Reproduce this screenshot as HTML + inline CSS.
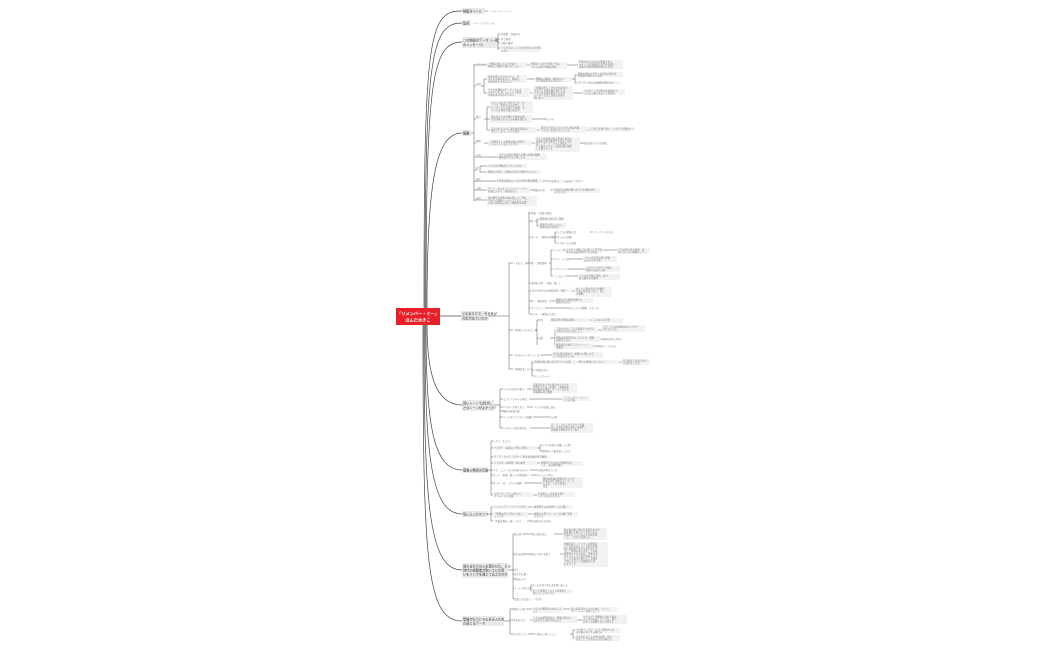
<!DOCTYPE html>
<html><head><meta charset="utf-8"><style>
html,body{margin:0;padding:0;background:#fff;width:1050px;height:650px;overflow:hidden}
svg{display:block}
.t{font-family:"Liberation Sans","Noto Sans CJK JP",sans-serif;font-size:2.4px;fill:#777}
.m{font-family:"Liberation Sans","Noto Sans CJK JP",sans-serif;font-size:3.2px;fill:#333}
.b{fill:#f2f2f2}
.mb{fill:#e9e9e9}
.l{stroke:#555;stroke-width:.5;fill:none}
.c{stroke:#444;stroke-width:.7;fill:none}
</style></head><body>
<svg width="1050" height="650" viewBox="0 0 1050 650" xmlns="http://www.w3.org/2000/svg">
<path class="c" d="M424 309 C424 40 428 10 462 11"/>
<path class="c" d="M425 309 C425 60 430 23 462 23"/>
<path class="c" d="M426 309 C426 80 432 42 462 42"/>
<path class="c" d="M427 309 C427 180 436 133 462 133"/>
<path class="c" d="M440 316 L461 316"/>
<path class="c" d="M427 324 C427 370 434 405 462 405"/>
<path class="c" d="M426 324 C426 420 432 470 462 470"/>
<path class="c" d="M425 324 C425 450 430 514 462 514"/>
<path class="c" d="M424 324 C424 500 428 570 462 570"/>
<path class="c" d="M423 324 C423 560 426 621 462 621"/>

<rect x="396" y="308" width="44" height="17" fill="#e8202a"/>
<text x="418" y="315" text-anchor="middle" font-family="Liberation Sans,Noto Sans CJK JP,sans-serif" font-size="4.2" font-weight="bold" fill="#fff">「リメンバー・ミー」</text>
<text x="418" y="321.5" text-anchor="middle" font-family="Liberation Sans,Noto Sans CJK JP,sans-serif" font-size="4.2" font-weight="bold" fill="#fff">ほんだゆきこ</text>

<rect class="mb" x="462" y="8" width="23" height="6"/><text class="m" x="463" y="12.3">映画タイトル</text>
<line class="l" x1="485" y1="11" x2="488" y2="11"/><text class="t" x="489" y="12">「リメンバー・ミー」</text>
<rect class="mb" x="462" y="20" width="9" height="6"/><text class="m" x="463" y="24.3">監督</text>
<text class="t" x="473" y="24">リー・アンクリッチ</text>
<rect class="mb" x="462" y="37" width="35" height="11"/><text class="m" x="463" y="41.5">この映画のテーマ（一番</text><text class="m" x="463" y="46">のメッセージ）</text>
<rect class="mb" x="462" y="130" width="9" height="6"/><text class="m" x="463" y="134.3">概要</text>
<rect class="mb" x="461" y="311" width="28" height="10"/><text class="m" x="462" y="315">どのあたりで、やる気が</text><text class="m" x="462" y="319.5">元気が出ていたか</text>
<rect class="mb" x="462" y="400" width="32" height="11"/><text class="m" x="463" y="404.5">良いシーンで(何が)、</text><text class="m" x="463" y="409">どのシーンがよかった?</text>
<rect class="mb" x="462" y="467" width="26" height="6"/><text class="m" x="463" y="471.3">登場人物書の印象</text>
<rect class="mb" x="462" y="511" width="25" height="6"/><text class="m" x="463" y="515.3">気に入ったセリフ</text>
<rect class="mb" x="462" y="563" width="46" height="15"/><text class="m" x="463" y="567.5">身のまわりの人を思わせた、その</text><text class="m" x="463" y="571.5">時代の視聴者が抱いていた思</text><text class="m" x="463" y="575.5">いをリンクを通じて伝えたのか</text>
<rect class="mb" x="462" y="616" width="42" height="10"/><text class="m" x="463" y="620.5">登場がもつとちもある人ため</text><text class="m" x="463" y="624.5">た感じるテーマ</text>

<path class="l" d="M497 42 H498 M498 34 V50 M498 34 H500 M498 39 H500 M498 43 H500 M498 48 H500"/>
<text class="t" x="501" y="35">家族愛・音楽の力</text><text class="t" x="501" y="40">夢と家族</text><text class="t" x="501" y="44">記憶と継承</text>
<rect class="b" x="500" y="46" width="40" height="6"/><text class="t" x="501" y="48.5">「忘れない」ことが大切な人との絆を</text><text class="t" x="501" y="51.3">つなぐ</text>

<path class="l" d="M471 133 H474 M474 64 V201"/>
<g>
<path class="l" d="M474 65 H487 M527 65 H530 M567 65 H578"/><text class="t" x="476" y="64.5">ジャンル</text>
<rect class="b" x="487" y="62" width="40" height="6"/><text class="t" x="488" y="64.5">「家族の絆」のことがあり</text><text class="t" x="488" y="67">家族との関係で描かれている</text>
<rect class="b" x="530" y="62" width="37" height="7"/><text class="t" x="531" y="64.5">家族のつながりを描く作品</text><text class="t" x="531" y="67.3">ミゲルの夢と家族の想い</text>
<rect class="b" x="578" y="60" width="45" height="9"/><text class="t" x="579" y="62.5">死者の日にちなんだ物語であり、</text><text class="t" x="579" y="65">メキシコの伝統的な文化を背景に</text><text class="t" x="579" y="67.5">家族と音楽の関係を描いた作品</text>

<path class="l" d="M474 86 H476 M481 86 H484 M484 79 V93 M484 79 H487 M484 93 H487 M527 79 H535 M572 79 H575 M575 75 V83 M575 75 H577 M575 83 H577 M530 93 H533 M573 93 H583"/><text class="t" x="476" y="85">登場</text>
<rect class="b" x="487" y="75" width="40" height="8"/><text class="t" x="488" y="77.5">音楽を愛する少年ミゲル、ギ</text><text class="t" x="488" y="80">ターの才能があるが、家族は</text><text class="t" x="488" y="82.5">音楽を禁止されている</text>
<rect class="b" x="535" y="77" width="37" height="5"/><text class="t" x="536" y="79.3">靴職人の家族、祖母エレナ</text><text class="t" x="536" y="81.5">ひいおばあちゃんのココ</text>
<rect class="b" x="577" y="72" width="46" height="5"/><text class="t" x="578" y="74.3">死者の国でヘクターと出会い真実を</text><text class="t" x="578" y="76.5">家族の記憶をたどる旅</text>
<rect class="b" x="577" y="81" width="43" height="3"/><text class="t" x="578" y="83.3">デ・ラ・クルスの秘密が明らかに</text>
<rect class="b" x="487" y="88" width="43" height="9"/><text class="t" x="488" y="90.5">ミゲルは憧れのデ・ラ・クルス</text><text class="t" x="488" y="93">のギターを手にしたことで死者</text><text class="t" x="488" y="95.5">の国に迷い込んでしまう</text>
<rect class="b" x="533" y="86" width="40" height="14"/><text class="t" x="534" y="88.5">「家族の許し」がなければ日の</text><text class="t" x="534" y="91">出までに生者の国に戻れない。</text><text class="t" x="534" y="93.5">ミゲルは音楽を続けたいため</text><text class="t" x="534" y="96">ヘクターと共に高祖父を探す</text><text class="t" x="534" y="98.5">旅に出る</text>
<rect class="b" x="583" y="89" width="42" height="6"/><text class="t" x="584" y="91.5">ヘクターこそが本当の高祖父で</text><text class="t" x="584" y="94">ココの父親であることを知る</text>

<path class="l" d="M474 119 H476 M484 119 H487 M487 107 V130 M487 107 H490 M487 119 H490 M487 130 H490 M532 119 H547 M537 130 H540 M587 130 H588"/><text class="t" x="476" y="118">舞台</text>
<rect class="b" x="490" y="101" width="43" height="12"/><text class="t" x="491" y="103.5">メキシコの小さな町サンタ・セ</text><text class="t" x="491" y="106">シリア、死者の日のお祭り、マ</text><text class="t" x="491" y="108.5">リーゴールドの花びらの橋、カ</text><text class="t" x="491" y="111">ラフルな死者の国の街並み</text>
<rect class="b" x="490" y="115" width="42" height="8"/><text class="t" x="491" y="117.5">骨の住人たちが暮らす死者の国</text><text class="t" x="491" y="120">写真が飾られた人のみ橋を渡れる</text>
<text class="t" x="547" y="120">ヒヤヤ</text>
<rect class="b" x="490" y="127" width="47" height="6"/><text class="t" x="491" y="129.5">忘れられた人は二度目の死を迎えて</text><text class="t" x="491" y="132">消えてしまう、という設定</text>
<rect class="b" x="540" y="126" width="47" height="7"/><text class="t" x="541" y="128.5">誰からも覚えられていない者は消滅</text><text class="t" x="541" y="131">ヘクターも消えかけている</text>
<rect class="b" x="588" y="127" width="42" height="5"/><text class="t" x="589" y="129.5">ココが父を思い出し、ヘクターは救われる</text>

<path class="l" d="M474 143 H476 M484 143 H488 M532 143 H535 M580 143 H583"/><text class="t" x="476" y="142">展開</text>
<rect class="b" x="488" y="140" width="44" height="5"/><text class="t" x="489" y="142.5">「音楽禁止」の家族の掟に反発し</text><text class="t" x="489" y="144.8">コンテストに出ようとする</text>
<rect class="b" x="535" y="137" width="45" height="15"/><text class="t" x="536" y="139.5">ミゲルは死者の国で家族に出会い</text><text class="t" x="536" y="142">音楽をやめる条件付きの許しを拒</text><text class="t" x="536" y="144.5">否し、デ・ラ・クルスを探す、し</text><text class="t" x="536" y="147">かし彼はヘクターの曲を盗み毒殺</text><text class="t" x="536" y="149.5">した犯人だった</text>
<text class="t" x="583" y="144">物語の核心となる場面</text>

<path class="l" d="M474 157 H498"/><text class="t" x="476" y="156">心情</text>
<rect class="b" x="498" y="153" width="49" height="7"/><text class="t" x="499" y="155.5">ミゲルの夢と家族への想いの間の葛藤</text><text class="t" x="499" y="158">最後は両方を大切にする</text>
<path class="l" d="M474 170 H477 M480 166 V172 M480 166 H487 M480 172 H487"/><text class="t" x="476" y="169">時</text>
<rect class="b" x="487" y="164" width="40" height="4"/><text class="t" x="488" y="166.5">ミゲルの行動は正しかったのか</text>
<rect class="b" x="487" y="170" width="53" height="4"/><text class="t" x="488" y="172.5">家族の大切さ、記憶の大切さが描かれている</text>
<path class="l" d="M474 181 H498 M543 181 H547"/><text class="t" x="476" y="180">設定</text>
<rect class="b" x="498" y="179" width="45" height="4"/><text class="t" x="499" y="181.5">死者の国のルールと生者の国の関係</text>
<text class="t" x="547" y="182">写真を飾ることの意味とつながり</text>
<path class="l" d="M474 190 H487 M530 190 H533 M550 190 H553"/><text class="t" x="476" y="189">人物</text>
<rect class="b" x="487" y="187" width="43" height="6"/><text class="t" x="488" y="189.5">デ・ラ・クルス「リメンバー・ミー」</text><text class="t" x="488" y="192">を歌うスター、曲を盗んだ</text>
<text class="t" x="533" y="191">家族の写真</text>
<rect class="b" x="553" y="188" width="47" height="5"/><text class="t" x="554" y="190.5">写真の中の顔が破られていた理由が明</text><text class="t" x="554" y="192.8">らかになる</text>
<path class="l" d="M474 200 H487"/><text class="t" x="476" y="199">見所</text>
<rect class="b" x="487" y="196" width="50" height="10"/><text class="t" x="488" y="198.5">骨の描写と死者の国の美しさ、色彩</text><text class="t" x="488" y="201">ギターの演奏シーンのリアルさ、ココ</text><text class="t" x="488" y="203.5">に歌う場面は心を打つ感動的な場面</text>
</g>

<path class="l" d="M489 316 H509 M509 263 V369 M509 263 H513 M509 330 H513 M509 355 H513 M509 369 H513"/>
<text class="t" x="513" y="264">「元気さ」は</text>
<path class="l" d="M526 263 H529 M529 212 V314 M529 213 H531 M529 221 H531 M529 237 H531 M529 263 H531 M529 283 H531 M529 291 H531 M529 301 H531 M529 308 H531 M529 314 H531"/>
<text class="t" x="531" y="214">音楽 → 家族の場面</text>
<text class="t" x="531" y="222">夢</text><path class="l" d="M535 221 H537 M537 219 V226 M537 219 H539 M537 226 H539"/>
<rect class="b" x="539" y="217" width="24" height="4"/><text class="t" x="540" y="219.5">夢を追いかける、希望</text>
<rect class="b" x="539" y="223" width="27" height="5"/><text class="t" x="540" y="225.5">家族を大切にしたい</text><text class="t" x="540" y="227.8">家族の想いを知る</text>
<text class="t" x="531" y="238">ダンテ → 家族の場面</text><path class="l" d="M553 237 H555 M555 232 V243 M555 232 H557 M555 237 H557 M555 243 H557 M590 232 H593"/>
<text class="t" x="557" y="233">ミゲルの相棒の犬</text><text class="t" x="594" y="233">アレブリヘになる</text>
<text class="t" x="557" y="238">ダンテの活躍</text><text class="t" x="557" y="244">ヘクターとの友情</text>
<text class="t" x="531" y="264">骨 → 感情表現</text><path class="l" d="M549 263 H551 M551 250 V276 M551 250 H553 M551 259 H553 M551 269 H553 M551 276 H553 M563 250 H565 M603 250 H617 M567 259 H583 M567 269 H585 M567 276 H578"/>
<text class="t" x="553" y="251">「リメンバー」</text>
<rect class="b" x="565" y="248" width="38" height="5"/><text class="t" x="566" y="250.5">ヘクターが娘ココに歌った子守唄</text><text class="t" x="566" y="252.8">本当の意味が明かされる場面</text>
<rect class="b" x="617" y="248" width="33" height="5"/><text class="t" x="618" y="250.5">ココが思い出す場面、涙</text><text class="t" x="618" y="252.8">が止まらない感動のシーン</text>
<text class="t" x="553" y="260">「ウン・ポコ」</text>
<rect class="b" x="583" y="256" width="34" height="6"/><text class="t" x="584" y="258.5">ミゲルが広場で歌う場面</text><text class="t" x="584" y="261">元気になれる曲</text>
<text class="t" x="553" y="270">「プラウド」</text>
<rect class="b" x="585" y="266" width="35" height="6"/><text class="t" x="586" y="268.5">ミゲルとヘクターが歌う</text><text class="t" x="586" y="271">家族への誇りの歌</text>
<text class="t" x="553" y="277">「ジョローナ」</text>
<rect class="b" x="578" y="274" width="42" height="6"/><text class="t" x="579" y="276.5">イメルダが歌う場面、迫力</text><text class="t" x="579" y="279">ある歌声が印象的</text>
<text class="t" x="531" y="284">自然を大切 → 音楽、楽しく</text>
<rect class="b" x="531" y="289" width="41" height="3"/><text class="t" x="532" y="291.3">マリーゴールドの花びら、色彩</text>
<path class="l" d="M572 291 H575"/><rect class="b" x="575" y="287" width="37" height="10"/><text class="t" x="576" y="289.5">オレンジ色の花びらの橋が</text><text class="t" x="576" y="292">生者と死者をつなぐ、美し</text><text class="t" x="576" y="294.5">い映像</text>
<text class="t" x="531" y="302">骨 → 感情表現</text><path class="l" d="M549 301 H555"/>
<rect class="b" x="555" y="298" width="38" height="5"/><text class="t" x="556" y="300.5">骸骨なのに表情が豊かで、</text><text class="t" x="556" y="302.8">感情が伝わる</text>
<text class="t" x="531" y="309">アレブリヘ</text><path class="l" d="M545 308 H570"/><text class="t" x="570" y="309">カラフルな動物、ペピータ</text>
<text class="t" x="531" y="315">ダンテ → 家族のために</text>

<text class="t" x="513" y="331">「家族のつながり」は</text>
<path class="l" d="M535 330 H537 M537 320 V345 M537 320 H538 M537 338 H538 M590 320 H592 M550 338 H555 M555 329 V346 M598 330 H602 M600 339 H603 M593 346 H597"/>
<text class="t" x="538" y="321">写真</text>
<rect class="b" x="550" y="318" width="40" height="4"/><text class="t" x="551" y="320.5">家族写真を祭壇に飾る</text>
<rect class="b" x="592" y="318" width="31" height="5"/><text class="t" x="593" y="320.5">ココの父の写真</text>
<text class="t" x="538" y="339">記憶</text>
<rect class="b" x="555" y="327" width="43" height="6"/><text class="t" x="556" y="329.5">「思い出す」ことで家族がつながる</text><text class="t" x="556" y="332">大切な人を忘れないこと</text>
<rect class="b" x="602" y="325" width="43" height="7"/><text class="t" x="603" y="327.5">ママ・ココの記憶の中にヘクター</text><text class="t" x="603" y="330">が生きていた</text>
<rect class="b" x="555" y="336" width="45" height="6"/><text class="t" x="556" y="338.5">家族は音楽を禁止していたが、最後</text><text class="t" x="556" y="341">は受け入れる</text>
<text class="t" x="603" y="340">家族の絆の大切さ</text>
<rect class="b" x="555" y="343" width="38" height="6"/><text class="t" x="556" y="345.5">家族全員で歌うラストシーン</text><text class="t" x="556" y="348">感動的</text>
<text class="t" x="597" y="347">家族が一つになる</text>

<text class="t" x="513" y="356">「自己のメッセージ」は</text><path class="l" d="M540 355 H552"/>
<rect class="b" x="552" y="352" width="51" height="6"/><text class="t" x="553" y="354.5">自分の夢を諦めず、家族も大切にする</text><text class="t" x="553" y="357">ことの両立ができる</text>
<text class="t" x="513" y="370">「骨格変化」は</text><path class="l" d="M531 369 H532 M532 362 V376 M532 362 H534 M532 370 H534 M532 376 H534 M577 362 H578 M620 362 H622"/>
<rect class="b" x="534" y="360" width="43" height="4"/><text class="t" x="535" y="362.5">死者の国に迷い込んだミゲルの体</text>
<rect class="b" x="578" y="360" width="42" height="4"/><text class="t" x="579" y="362.5">徐々に骸骨になっていく</text>
<rect class="b" x="622" y="359" width="28" height="6"/><text class="t" x="623" y="361.5">日の出までに戻らない</text><text class="t" x="623" y="364">と戻れなくなる</text>
<text class="t" x="534" y="371">「家族の許し」</text><text class="t" x="534" y="377">マリーゴールド</text>

<path class="l" d="M494 405 H500 M500 389 V428 M500 389 H503 M500 399 H503 M500 407 H503 M500 411 H503 M500 417 H503 M500 428 H503"/>
<text class="t" x="503" y="390">ミゲルが広場で歌う</text><path class="l" d="M527 389 H532"/>
<rect class="b" x="532" y="383" width="45" height="10"/><text class="t" x="533" y="385.5">音楽が禁止された家の中でミゲル</text><text class="t" x="533" y="388">が隠れてギターを弾く、屋根裏部</text><text class="t" x="533" y="390.5">屋の秘密の祭壇、デ・ラ・クルス</text><text class="t" x="533" y="393">の映像を見て練習</text>
<text class="t" x="503" y="400">ココとヘクターの再会</text><path class="l" d="M529 399 H562"/>
<rect class="b" x="562" y="396" width="28" height="5"/><text class="t" x="563" y="398.5">「リメンバー・ミー」</text><text class="t" x="563" y="400.8">ココの記憶</text>
<text class="t" x="503" y="408">ヘクターが消えそう</text><path class="l" d="M527 407 H533"/><text class="t" x="534" y="408">ミゲルが必死に戻る</text>
<text class="t" x="503" y="412">最後の家族の歌</text>
<text class="t" x="503" y="418">イメルダとヘクターの和解</text><path class="l" d="M533 417 H550"/><text class="t" x="550" y="418">心の絆</text>
<text class="t" x="503" y="429">ヘクターの真実を知る</text><path class="l" d="M530 428 H550"/>
<rect class="b" x="550" y="423" width="43" height="10"/><text class="t" x="551" y="425.5">デ・ラ・クルスがヘクターを毒</text><text class="t" x="551" y="428">殺した事実を知る場面、衝撃的</text><text class="t" x="551" y="430.5">な展開で物語が大きく動く</text>

<path class="l" d="M488 470 H491 M491 441 V495 M491 441 H493 M491 448 H493 M491 457 H493 M491 463 H493 M491 470 H493 M491 475 H493 M491 483 H493 M491 495 H493"/>
<text class="t" x="493" y="442">ミゲル（主人公）</text>
<rect class="b" x="493" y="446" width="44" height="4"/><text class="t" x="494" y="448.5">ヘクター（高祖父）明るく陽気</text>
<path class="l" d="M537 448 H540 M540 445 V451 M540 445 H542 M540 451 H542"/><text class="t" x="542" y="446">ミゲルを助ける優しい人物</text><text class="t" x="542" y="452">家族思いで娘を愛していた</text>
<rect class="b" x="493" y="455" width="57" height="3"/><text class="t" x="494" y="457.5">デ・ラ・クルス（スター）表と裏の顔がある悪役</text>
<rect class="b" x="493" y="461" width="44" height="4"/><text class="t" x="494" y="463.5">イメルダ（高祖母）強い女性</text><path class="l" d="M537 463 H540"/>
<rect class="b" x="540" y="461" width="43" height="5"/><text class="t" x="541" y="463.5">家族を守るために音楽を禁止</text><text class="t" x="541" y="465.8">した、実は愛情深い</text>
<text class="t" x="493" y="471">ママ・ココ（ひいおばあちゃん）</text><path class="l" d="M530 470 H538"/><text class="t" x="538" y="471">記憶が薄れている</text>
<text class="t" x="493" y="476">エレナ（祖母）厳しいが家族思い</text><path class="l" d="M531 475 H537"/><text class="t" x="537" y="476">スリッパで叩く</text>
<text class="t" x="493" y="484">ダンテ（犬）ミゲルの相棒</text><path class="l" d="M524 483 H542"/>
<rect class="b" x="542" y="477" width="41" height="11"/><text class="t" x="543" y="479.5">最初は普通の野良犬だったが</text><text class="t" x="543" y="482">死者の国で本物のアレブリヘ</text><text class="t" x="543" y="484.5">になる、ミゲルを導く</text><text class="t" x="543" y="487">存在</text>
<rect class="b" x="493" y="492" width="40" height="5"/><text class="t" x="494" y="494.5">ペピータ（イメルダのアレ</text><text class="t" x="494" y="496.8">ブリヘ）大きな猫</text><path class="l" d="M533 495 H537"/>
<rect class="b" x="537" y="492" width="38" height="5"/><text class="t" x="538" y="494.5">空を飛ぶ、迫力ある姿で</text><text class="t" x="538" y="496.8">ミゲルを追いかける</text>

<path class="l" d="M487 514 H491 M491 507 V521 M491 507 H493 M491 514 H493 M491 521 H493 M528 507 H533 M528 514 H533 M527 521 H530"/>
<rect class="b" x="493" y="505" width="35" height="4"/><text class="t" x="494" y="507.3">「リメンバー・ミー」ヘクター</text>
<rect class="b" x="533" y="505" width="40" height="4"/><text class="t" x="534" y="507.5">娘を想う父の気持ち、心に響く</text>
<rect class="b" x="493" y="512" width="35" height="5"/><text class="t" x="494" y="514.5">「家族の許しがないとね」</text><text class="t" x="494" y="516.8">イメルダ</text>
<rect class="b" x="533" y="512" width="45" height="5"/><text class="t" x="534" y="514.5">家族の大切さと、ルールの重さを表</text><text class="t" x="534" y="516.8">すセリフ</text>
<text class="t" x="493" y="522">「音楽は僕の一部」ミゲル</text><text class="t" x="530" y="522">夢を諦めない気持ち</text>

<path class="l" d="M508 570 H513 M513 534 V599 M513 534 H514 M513 554 H514 M513 570 H514 M513 574 H514 M513 579 H514 M513 588 H514 M513 599 H514"/>
<text class="t" x="514" y="535">祖父母</text><path class="l" d="M522 534 H532 M554 534 H563"/><text class="t" x="532" y="535">思い出を語る</text>
<rect class="b" x="563" y="528" width="44" height="12"/><text class="t" x="564" y="530.5">祖父母の家で昔の写真を見ながら</text><text class="t" x="564" y="533">話を聞いた時のことを思い出す</text><text class="t" x="564" y="535.5">写真に写っている人々の話を聞</text><text class="t" x="564" y="538">くと、つながりを感じる</text>
<text class="t" x="514" y="555">自分の家族</text><path class="l" d="M526 554 H529 M560 554 H563"/><text class="t" x="529" y="555">家族の大切さを思う</text>
<rect class="b" x="563" y="542" width="45" height="25"/><text class="t" x="564" y="544.5">映画を見て、亡くなった家族の</text><text class="t" x="564" y="547">ことを思い出した。お盆やお彼</text><text class="t" x="564" y="549.5">岸にお墓参りをするのと同じよ</text><text class="t" x="564" y="552">うに、死者を思い出すことの意</text><text class="t" x="564" y="554.5">味を考えさせられた。日本の文</text><text class="t" x="564" y="557">化とメキシコの文化は似ている</text><text class="t" x="564" y="559.5">ところがあると感じた。記憶を</text><text class="t" x="564" y="562">大切にすることは家族を大切</text><text class="t" x="564" y="564.5">にすること</text>
<text class="t" x="514" y="570">友人</text><text class="t" x="514" y="575">先生や先輩</text><text class="t" x="514" y="580">地域の人々</text>
<text class="t" x="514" y="589">ペットの思い出</text><path class="l" d="M530 588 H531 M531 585 V591 M531 585 H532 M531 591 H532"/>
<text class="t" x="532" y="586">ダンテを見て昔の犬を思い出した</text>
<rect class="b" x="532" y="589" width="40" height="5"/><text class="t" x="533" y="591.5">ずっと家族だったことを改めて</text><text class="t" x="533" y="593.8">感じることができた</text>
<text class="t" x="514" y="600">音楽との出会い、つながり</text>

<path class="l" d="M504 621 H510 M510 609 V634 M510 609 H513 M510 620 H513 M510 634 H513 M526 609 H532 M563 609 H570 M530 620 H532 M577 620 H582 M528 634 H535 M570 634 H573 M573 630 V638 M573 630 H575 M573 638 H575"/>
<text class="t" x="513" y="610">家族への愛</text>
<rect class="b" x="532" y="607" width="31" height="6"/><text class="t" x="533" y="609.5">ミゲルが家族のためにした</text><text class="t" x="533" y="612">こと</text>
<rect class="b" x="570" y="607" width="47" height="5"/><text class="t" x="571" y="609.5">ひいおばあちゃんのために「リメン</text><text class="t" x="571" y="611.8">バー・ミー」を歌ったこと</text>
<text class="t" x="513" y="621">夢を追う力</text>
<rect class="b" x="532" y="616" width="45" height="7"/><text class="t" x="533" y="618.5">ミゲルは夢を諦めず、家族の反対に</text><text class="t" x="533" y="621">も負けずに気持ちを伝えた</text>
<rect class="b" x="582" y="615" width="45" height="9"/><text class="t" x="583" y="617.5">ミゲルが一生懸命になれる姿は、</text><text class="t" x="583" y="620">みんなが応援したくなる。夢に</text><text class="t" x="583" y="622.5">向かって頑張りたいと思える</text>
<text class="t" x="513" y="635">忘れないこと</text>
<text class="t" x="535" y="635">一番心に残ったこと</text>
<rect class="b" x="575" y="628" width="45" height="5"/><text class="t" x="576" y="630.5">ヘクター、ママ・ココ、家族みんな</text><text class="t" x="576" y="632.8">の記憶の中に生き続ける</text>
<rect class="b" x="575" y="635" width="45" height="6"/><text class="t" x="576" y="637.5">忘れられることが本当の死、思い</text><text class="t" x="576" y="640">出すことで大切な人は生き続ける</text>
</svg>
</body></html>
